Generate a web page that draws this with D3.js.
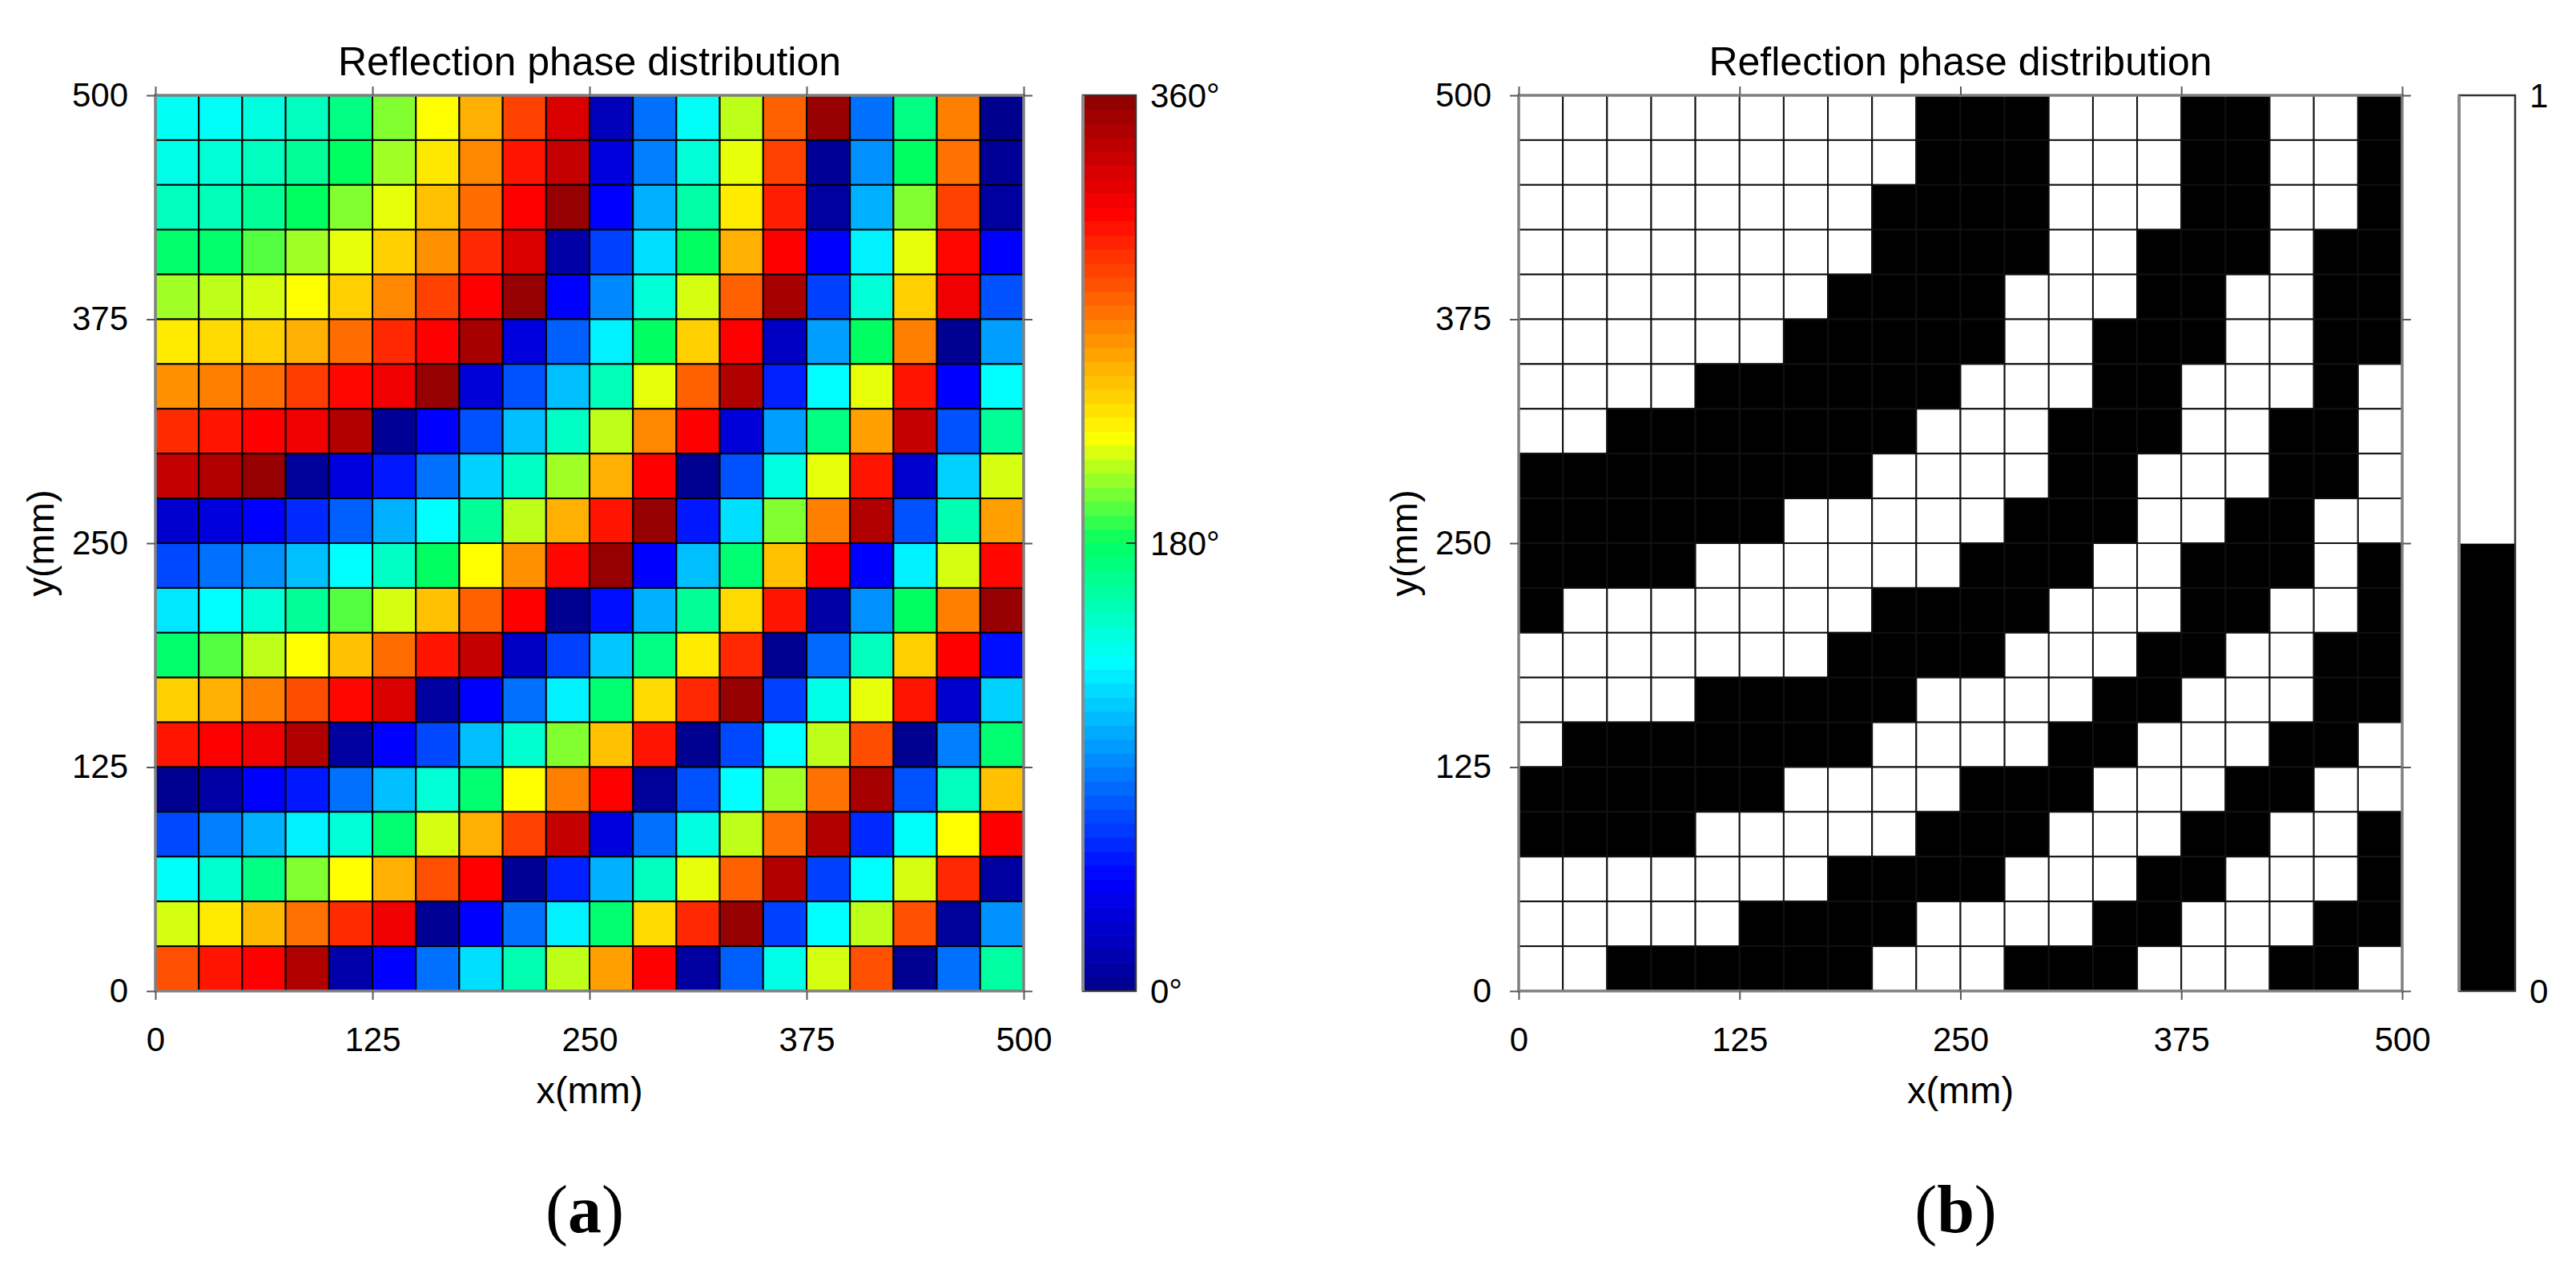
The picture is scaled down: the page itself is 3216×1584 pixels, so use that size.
<!DOCTYPE html>
<html>
<head>
<meta charset="utf-8">
<script src="https://cdn.jsdelivr.net/npm/d3@7"></script>
<style>
  body { margin: 0; background: #fff; }
  text { font-family: "Liberation Sans", Arial, sans-serif; fill: #000; }
</style>
</head>
<body>
<svg id="fig" width="3216" height="1584"></svg>
<script>
// ── data ──────────────────────────────────────────────
// 20 x 20 unit cells of 25 mm; rows listed from the top (y = 475–500 mm) down
const CELL_MM = 25;
const AXIS_TICKS = [0, 125, 250, 375, 500];

// reflection phase in degrees
const PHASE_ROWS = [
  [136,135,142,152,170,202,223,251,290,328, 18, 84,135,212,279,356, 84,170,268,  1],
  [140,145,152,164,180,207,231,265,306,337, 32, 89,145,219,290,  4, 95,180,273,  4],
  [152,154,164,180,202,219,245,275,313,356, 45,106,160,230,302,  8,106,202,290,  8],
  [177,177,194,207,219,240,262,299,328, 10, 67,122,180,251,313, 45,128,219,311, 45],
  [207,212,216,223,240,265,290,313,356, 45, 92,145,216,279,349, 67,145,240,319, 73],
  [230,236,240,251,275,299,313,349, 32, 78,128,180,240,313, 22,100,180,268,  2,100],
  [262,268,275,292,311,319,356, 30, 73,111,154,219,279,345, 56,133,219,306, 45,133],
  [298,306,313,319,345,  4, 45, 73,111,150,212,265,313, 30,100,170,257,337, 73,164],
  [337,345,356,  6, 32, 53, 84,117,150,207,251,313,  2, 73,142,219,306, 26,117,216],
  [ 26, 32, 45, 59, 78,106,133,164,212,251,306,356, 53,122,202,268,345, 73,156,257],
  [ 70, 84, 95,111,133,150,180,223,262,311,356, 45,111,175,245,313, 45,128,216,311],
  [125,133,145,164,194,216,245,279,313,  2, 50,106,164,236,306, 10, 95,180,268,356],
  [177,194,212,223,245,275,306,337, 22, 67,114,170,230,299,  2, 81,152,240,313, 50],
  [240,251,268,286,311,328,  8, 45, 84,128,175,236,299,356, 67,140,219,306, 26,117],
  [306,313,319,345,  8, 45, 70,111,147,202,245,306,  2, 70,133,212,286,  2, 89,175],
  [  2, 10, 45, 53, 84,111,145,175,223,268,313,  6, 73,133,207,273,349, 73,152,245],
  [ 70, 89,106,128,145,175,216,251,290,337, 32, 84,142,212,273,345, 59,135,223,313],
  [135,147,170,202,223,251,285,313,  3, 56,106,152,219,279,345, 67,133,216,299,  8],
  [216,230,248,273,298,319,  3, 45, 84,128,175,236,299,356, 67,133,212,285,  6, 95],
  [285,306,313,345, 12, 45, 84,122,156,212,257,313,  8, 78,140,216,285,  2, 84,161]
];

// 1-bit coding
const CODE_ROWS = [
  [1,1,1,1,1,1,1,1,1,0,0,0,1,1,1,0,0,1,1,0],
  [1,1,1,1,1,1,1,1,1,0,0,0,1,1,1,0,0,1,1,0],
  [1,1,1,1,1,1,1,1,0,0,0,0,1,1,1,0,0,1,1,0],
  [1,1,1,1,1,1,1,1,0,0,0,0,1,1,0,0,0,1,0,0],
  [1,1,1,1,1,1,1,0,0,0,0,1,1,1,0,0,1,1,0,0],
  [1,1,1,1,1,1,0,0,0,0,0,1,1,0,0,0,1,1,0,0],
  [1,1,1,1,0,0,0,0,0,0,1,1,1,0,0,1,1,1,0,1],
  [1,1,0,0,0,0,0,0,0,1,1,1,0,0,0,1,1,0,0,1],
  [0,0,0,0,0,0,0,0,1,1,1,1,0,0,1,1,1,0,0,1],
  [0,0,0,0,0,0,1,1,1,1,1,0,0,0,1,1,0,0,1,1],
  [0,0,0,0,1,1,1,1,1,1,0,0,0,1,1,0,0,0,1,0],
  [0,1,1,1,1,1,1,1,0,0,0,0,1,1,1,0,0,1,1,0],
  [1,1,1,1,1,1,1,0,0,0,0,1,1,1,0,0,1,1,0,0],
  [1,1,1,1,0,0,0,0,0,1,1,1,1,0,0,1,1,1,0,0],
  [1,0,0,0,0,0,0,0,1,1,1,1,0,0,1,1,1,0,0,1],
  [0,0,0,0,0,0,1,1,1,1,0,0,0,1,1,1,0,0,1,1],
  [0,0,0,0,1,1,1,1,1,0,0,0,1,1,1,0,0,1,1,0],
  [1,1,1,1,1,1,1,0,0,0,0,1,1,1,0,0,1,1,1,0],
  [1,1,1,1,1,0,0,0,0,1,1,1,1,0,0,1,1,1,0,0],
  [1,1,0,0,0,0,0,0,1,1,1,0,0,0,1,1,1,0,0,1]
];

// jet-like colormap as seen on the colour bar
const PHASE_STOPS  = [0, 45, 133, 180, 223, 313, 360];
const PHASE_COLORS = ["#00008c", "#0000ff", "#00ffff", "#00ff60", "#ffff00", "#ff0000", "#8c0000"];
const PHASE_TICKS  = [0, 180, 360];
const CODE_LEVELS  = [0, 1];
const CODE_COLORS  = ["#000000", "#ffffff"];

const TITLE = "Reflection phase distribution";

// ── drawing ───────────────────────────────────────────
const svg = d3.select("#fig");
const phaseColor = d3.scaleLinear().domain(PHASE_STOPS).range(PHASE_COLORS).interpolate(d3.interpolateRgb);
const TICK_FONT = 42;

function styleTicks(sel) {
    sel.select(".domain").remove();
    sel.selectAll("line").attr("stroke", "#5a5a5a").attr("stroke-width", 2);
    sel.selectAll("text").attr("font-size", TICK_FONT).attr("fill", "#000");
}

function drawMap(opt) {
    const x = d3.scaleLinear().domain([0, 500]).range([opt.left, opt.right]);
    const y = d3.scaleLinear().domain([0, 500]).range([opt.bottom, opt.top]);
    const g = svg.append("g");

    const cells = [];
    opt.rows.forEach((row, r) => row.forEach((v, c) => cells.push({ r, c, v })));
    g.selectAll("rect.cell").data(cells).join("rect")
        .attr("class", "cell")
        .attr("x", d => x(d.c * CELL_MM))
        .attr("y", d => y(500 - d.r * CELL_MM))
        .attr("width", x(CELL_MM) - x(0))
        .attr("height", y(0) - y(CELL_MM))
        .attr("fill", d => opt.fill(d.v))
        .attr("stroke", opt.gridColor).attr("stroke-width", 2);

    // plot box
    g.append("rect")
        .attr("x", opt.left).attr("y", opt.top)
        .attr("width", opt.right - opt.left).attr("height", opt.bottom - opt.top)
        .attr("fill", "none").attr("stroke", "#808080").attr("stroke-width", 3.5);

    // outward ticks on all four sides, labels left and bottom only
    g.append("g").attr("transform", `translate(0,${opt.bottom})`)
        .call(d3.axisBottom(x).tickValues(AXIS_TICKS).tickSize(11).tickPadding(34))
        .call(styleTicks);
    g.append("g").attr("transform", `translate(${opt.left},0)`)
        .call(d3.axisLeft(y).tickValues(AXIS_TICKS).tickSize(11).tickPadding(23))
        .call(styleTicks);
    g.append("g").attr("transform", `translate(0,${opt.top})`)
        .call(d3.axisTop(x).tickValues(AXIS_TICKS).tickSize(11).tickFormat(""))
        .call(styleTicks);
    g.append("g").attr("transform", `translate(${opt.right},0)`)
        .call(d3.axisRight(y).tickValues(AXIS_TICKS).tickSize(11).tickFormat(""))
        .call(styleTicks);

    const cx = (opt.left + opt.right) / 2;
    g.append("text").attr("x", cx).attr("y", 94)
        .attr("text-anchor", "middle").attr("font-size", 50).text(TITLE);
    g.append("text").attr("x", cx).attr("y", 1377)
        .attr("text-anchor", "middle").attr("font-size", 47).text("x(mm)");
    g.append("text")
        .attr("transform", `translate(${opt.left - 127},${(opt.top + opt.bottom) / 2}) rotate(-90)`)
        .attr("text-anchor", "middle").attr("font-size", 47).text("y(mm)");

    // panel letter
    const lt = g.append("text").attr("x", cx - 6).attr("y", 1538)
        .attr("text-anchor", "middle").attr("font-size", 84)
        .style("font-family", "'Liberation Serif', 'Times New Roman', serif");
    lt.append("tspan").text("(");
    lt.append("tspan").attr("font-weight", "bold").text(opt.letter);
    lt.append("tspan").text(")");
}

function drawBar(opt) {
    const y = d3.scaleLinear().domain(opt.domain).range([opt.bottom, opt.top]);
    const g = svg.append("g");
    const n = opt.bands.length;
    const step = (opt.domain[1] - opt.domain[0]) / n;

    g.selectAll("rect.band").data(opt.bands).join("rect")
        .attr("class", "band")
        .attr("x", opt.left).attr("width", opt.right - opt.left)
        .attr("y", (d, i) => y(opt.domain[0] + (i + 1) * step))
        .attr("height", (d, i) => y(opt.domain[0] + i * step) - y(opt.domain[0] + (i + 1) * step) + 0.6)
        .attr("fill", d => d);

    g.append("rect")
        .attr("x", opt.left).attr("y", opt.top)
        .attr("width", opt.right - opt.left).attr("height", opt.bottom - opt.top)
        .attr("fill", "none").attr("stroke", "#333").attr("stroke-width", 2.5);
    g.append("line")
        .attr("x1", opt.left).attr("x2", opt.left)
        .attr("y1", opt.top).attr("y2", opt.bottom)
        .attr("stroke", "#8a8a8a").attr("stroke-width", 4);

    // small inner ticks at the right edge
    g.selectAll("line.tk").data(opt.ticks.slice(1, -1)).join("line")
        .attr("class", "tk")
        .attr("x1", opt.right - 12).attr("x2", opt.right)
        .attr("y1", d => y(d)).attr("y2", d => y(d))
        .attr("stroke", "#333").attr("stroke-width", 2);

    g.selectAll("text.tl").data(opt.ticks).join("text")
        .attr("class", "tl")
        .attr("x", opt.right + 18).attr("y", d => y(d))
        .attr("dy", "0.35em").attr("font-size", TICK_FONT)
        .text(opt.format);
}

const TOP = 119, BOTTOM = 1237;

drawMap({
    rows: PHASE_ROWS, fill: v => phaseColor(v), gridColor: "#000",
    left: 194, right: 1278, top: TOP, bottom: BOTTOM, letter: "a"
});
drawBar({
    left: 1352, right: 1418, top: TOP, bottom: BOTTOM,
    domain: [0, 360],
    bands: d3.range(64).map(i => phaseColor((i + 0.5) * 360 / 64)),
    ticks: PHASE_TICKS, format: d => d + "°"
});

drawMap({
    rows: CODE_ROWS, fill: v => CODE_COLORS[v], gridColor: "#111",
    left: 1896, right: 2999, top: TOP, bottom: BOTTOM, letter: "b"
});
drawBar({
    left: 3070, right: 3140, top: TOP, bottom: BOTTOM,
    domain: [0, 1],
    bands: CODE_LEVELS.map(v => CODE_COLORS[v]),
    ticks: CODE_LEVELS, format: d => d
});
</script>
</body>
</html>
